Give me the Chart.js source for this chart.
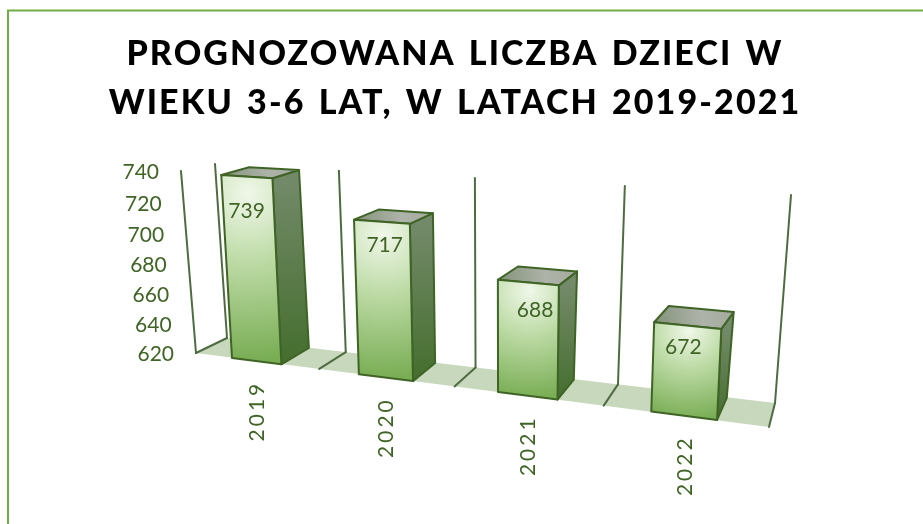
<!DOCTYPE html>
<html>
<head>
<meta charset="utf-8">
<style>html,body{margin:0;padding:0;background:#fff}canvas{display:block}</style>
<script src="https://cdn.jsdelivr.net/npm/chart.js@4/dist/chart.umd.min.js"></script>
</head>
<body>
<canvas id="c" width="923" height="524"></canvas>
<script>
const titleLines = ['PROGNOZOWANA LICZBA DZIECI W', 'WIEKU 3-6 LAT, W LATACH 2019-2021'];
const categories = ['2019', '2020', '2021', '2022'];
const values = [739, 717, 688, 672];
const axisMin = 620, axisMax = 740, axisStep = 20;

const GREEN = '#3f6426';
const FONT = 'Lato';

// Camera: each depth plane of the 3-D box maps the flat plot (s,t in 0..1) to the page.
const PLANES = {
  wall:  [[0,0,227,338],[1,0,775,403],[1,1,791,195],[0,1,215,164]],
  edge:  [[0,0,196,353],[1,0,769,427],[1,1,783,207.6],[0,1,181,171]],
  front: [[0,0,196.1,353.4],[1,0,768.2,426.5],[1,1,780.8,207.6],[0,1,184,171.2]],
  back:  [[0,0,227,338.2],[1,0,775.8,403.8],[1,1,796,194.8],[0,1,212.8,163.8]]
};
const LABEL_NUDGE = [[0,35],[3,24],[7,28],[-4,22]];

function solve(A, b) {
  const n = b.length;
  for (let i = 0; i < n; i++) {
    let p = i;
    for (let r = i + 1; r < n; r++) if (Math.abs(A[r][i]) > Math.abs(A[p][i])) p = r;
    [A[i], A[p]] = [A[p], A[i]]; [b[i], b[p]] = [b[p], b[i]];
    for (let r = i + 1; r < n; r++) {
      const f = A[r][i] / A[i][i];
      for (let c = i; c < n; c++) A[r][c] -= f * A[i][c];
      b[r] -= f * b[i];
    }
  }
  const x = new Array(n);
  for (let i = n - 1; i >= 0; i--) {
    let v = b[i];
    for (let c = i + 1; c < n; c++) v -= A[i][c] * x[c];
    x[i] = v / A[i][i];
  }
  return x;
}
function homography(q) {
  const A = [], b = [];
  for (const [s, t, X, Y] of q) {
    A.push([s, t, 1, 0, 0, 0, -s * X, -t * X]); b.push(X);
    A.push([0, 0, 0, s, t, 1, -s * Y, -t * Y]); b.push(Y);
  }
  const h = solve(A, b);
  return (s, t) => {
    const w = h[6] * s + h[7] * t + 1;
    return [(h[0] * s + h[1] * t + h[2]) / w, (h[3] * s + h[4] * t + h[5]) / w];
  };
}
const P = {};
for (const k in PLANES) P[k] = homography(PLANES[k]);

function poly(ctx, pts) {
  ctx.beginPath();
  pts.forEach((p, i) => i ? ctx.lineTo(p[0], p[1]) : ctx.moveTo(p[0], p[1]));
  ctx.closePath();
}
function seg(ctx, a, b) {
  ctx.beginPath(); ctx.moveTo(a[0], a[1]); ctx.lineTo(b[0], b[1]); ctx.stroke();
}

const scene = {
  id: 'scene',
  afterLayout(chart) {
    const ca = chart.chartArea;
    const yS = chart.scales.y, xS = chart.scales.x;
    const tOf = py => (ca.bottom - py) / (ca.bottom - ca.top);
    const sOf = px => (px - ca.left) / (ca.right - ca.left);
    yS.getLabelItems(ca).forEach((it, i) => {
      const p = P.edge(0, tOf(yS.getPixelForValue(yS.ticks[i].value)));
      it.textOffset = 0;
      it.options.translation = [p[0] - 22, p[1] + 1.5];
      it.options.textAlign = 'right';
      it.options.textBaseline = 'middle';
    });
    xS.getLabelItems(ca).forEach((it, i) => {
      const p = P.front(sOf(xS.getPixelForTick(i)), 0);
      it.textOffset = 0;
      it.options.translation = [p[0] + 1, p[1] + 50];
      it.options.textAlign = 'center';
      it.options.textBaseline = 'middle';
      it.options.rotation = -Math.PI / 2;
    });
    yS._computeLabelArea = () => undefined;
    xS._computeLabelArea = () => undefined;
    if (!xS._spaced) {
      xS._spaced = true;
      const d = xS.drawLabels.bind(xS);
      xS.drawLabels = a => { const c = xS.ctx; c.save(); c.letterSpacing = '3px'; d(a); c.letterSpacing = '0px'; c.restore(); };
      const tb = chart.titleBlock, td = tb.draw.bind(tb);
      tb.draw = () => {
        const c = chart.ctx; c.save();
        c.letterSpacing = '2.1px'; c.wordSpacing = '3px';
        td();
        c.letterSpacing = '0px'; c.wordSpacing = '0px'; c.restore();
      };
    }
  },
  beforeDraw(chart) {
    const c = chart.ctx;
    c.save();
    c.strokeStyle = '#70ad47'; c.lineWidth = 2;
    c.beginPath(); c.moveTo(8, 524); c.lineTo(8, 10.5); c.lineTo(923, 10.5); c.stroke();
    c.restore();
  },
  beforeDatasetsDraw(chart) {
    const c = chart.ctx;
    c.save();
    poly(c, [P.wall(0,0), P.wall(1,0), P.edge(1,0), P.edge(0,0)]);
    c.fillStyle = '#c7d8bc'; c.fill();
    c.strokeStyle = '#4f6b42'; c.lineWidth = 2; c.lineCap = 'round';
    for (let i = 0; i <= categories.length; i++) {
      const s = i / categories.length;
      seg(c, P.edge(s, 0), P.wall(s, 0));
      seg(c, P.wall(s, 0), P.wall(s, 1));
    }
    seg(c, P.edge(0, 0), P.edge(0, 1));
    c.restore();
  },
  beforeDatasetDraw(chart, args) {
    const c = chart.ctx, ca = chart.chartArea;
    const tOf = py => (ca.bottom - py) / (ca.bottom - ca.top);
    const sOf = px => (px - ca.left) / (ca.right - ca.left);
    c.save();
    c.lineJoin = 'round'; c.lineWidth = 2; c.strokeStyle = GREEN;
    args.meta.data.forEach(el => {
      const sl = sOf(el.x - el.width / 2), sr = sOf(el.x + el.width / 2);
      const t1 = tOf(el.y), t0 = tOf(el.base);
      const fBL = P.front(sl, t0), fBR = P.front(sr, t0), fTL = P.front(sl, t1), fTR = P.front(sr, t1);
      const bBR = P.back(sr, t0), bTL = P.back(sl, t1), bTR = P.back(sr, t1);

      let g = c.createLinearGradient(fTR[0], fTR[1], fBR[0], fBR[1]);
      g.addColorStop(0, '#738a69'); g.addColorStop(1, '#456e2e');
      poly(c, [fTR, bTR, bBR, fBR]); c.fillStyle = g; c.fill(); c.stroke();

      g = c.createLinearGradient(fTL[0], fTL[1], bTR[0], bTR[1]);
      g.addColorStop(0, '#83937a'); g.addColorStop(.6, '#aeb3a9'); g.addColorStop(1, '#a3aa9c');
      poly(c, [fTL, bTL, bTR, fTR]); c.fillStyle = g; c.fill(); c.stroke();

      const cx = fTL[0] + (fTR[0] - fTL[0]) * .52, cy = fTL[1] + (fBL[1] - fTL[1]) * .1;
      const r = Math.hypot(fBR[0] - cx, fBR[1] - cy) * .95;
      g = c.createRadialGradient(cx, cy, 0, cx, cy, r);
      g.addColorStop(0, '#f0f7e9'); g.addColorStop(.4, '#bfdca8'); g.addColorStop(1, '#7aae55');
      poly(c, [fTL, fTR, fBR, fBL]); c.fillStyle = g; c.fill(); c.stroke();
    });
    c.restore();
    return false;
  },
  afterDatasetsDraw(chart) {
    const c = chart.ctx, ca = chart.chartArea;
    const meta = chart.getDatasetMeta(0);
    c.save();
    c.fillStyle = GREEN; c.font = '21px ' + FONT;
    c.textAlign = 'center'; c.textBaseline = 'middle';
    meta.data.forEach((el, i) => {
      const s = (el.x - ca.left) / (ca.right - ca.left), t = (ca.bottom - el.y) / (ca.bottom - ca.top);
      const p = P.front(s, t);
      c.fillText(String(values[i]), p[0] + LABEL_NUDGE[i][0], p[1] + LABEL_NUDGE[i][1]);
    });
    c.restore();
  }
};

new Chart(document.getElementById('c'), {
  type: 'bar',
  data: {
    labels: categories,
    datasets: [{ data: values, base: axisMin, barPercentage: 0.4, categoryPercentage: 1, backgroundColor: '#7fb35b' }]
  },
  options: {
    responsive: false,
    animation: false,
    layout: { padding: { left: 0, right: 13, top: 0, bottom: 70 } },
    plugins: {
      legend: { display: false },
      tooltip: { enabled: false },
      title: {
        display: true,
        text: titleLines,
        color: '#000',
        font: { family: FONT, weight: '900', size: 34, lineHeight: 1.44 },
        padding: { top: 30, bottom: 10 }
      }
    },
    scales: {
      x: {
        grid: { display: false }, border: { display: false },
        ticks: { color: GREEN, font: { family: FONT, size: 21 }, autoSkip: false, minRotation: 90, maxRotation: 90 }
      },
      y: {
        min: axisMin, max: axisMax,
        grid: { display: false }, border: { display: false },
        ticks: { stepSize: axisStep, color: GREEN, font: { family: FONT, size: 21 } }
      }
    }
  },
  plugins: [scene]
});
</script>
</body>
</html>
